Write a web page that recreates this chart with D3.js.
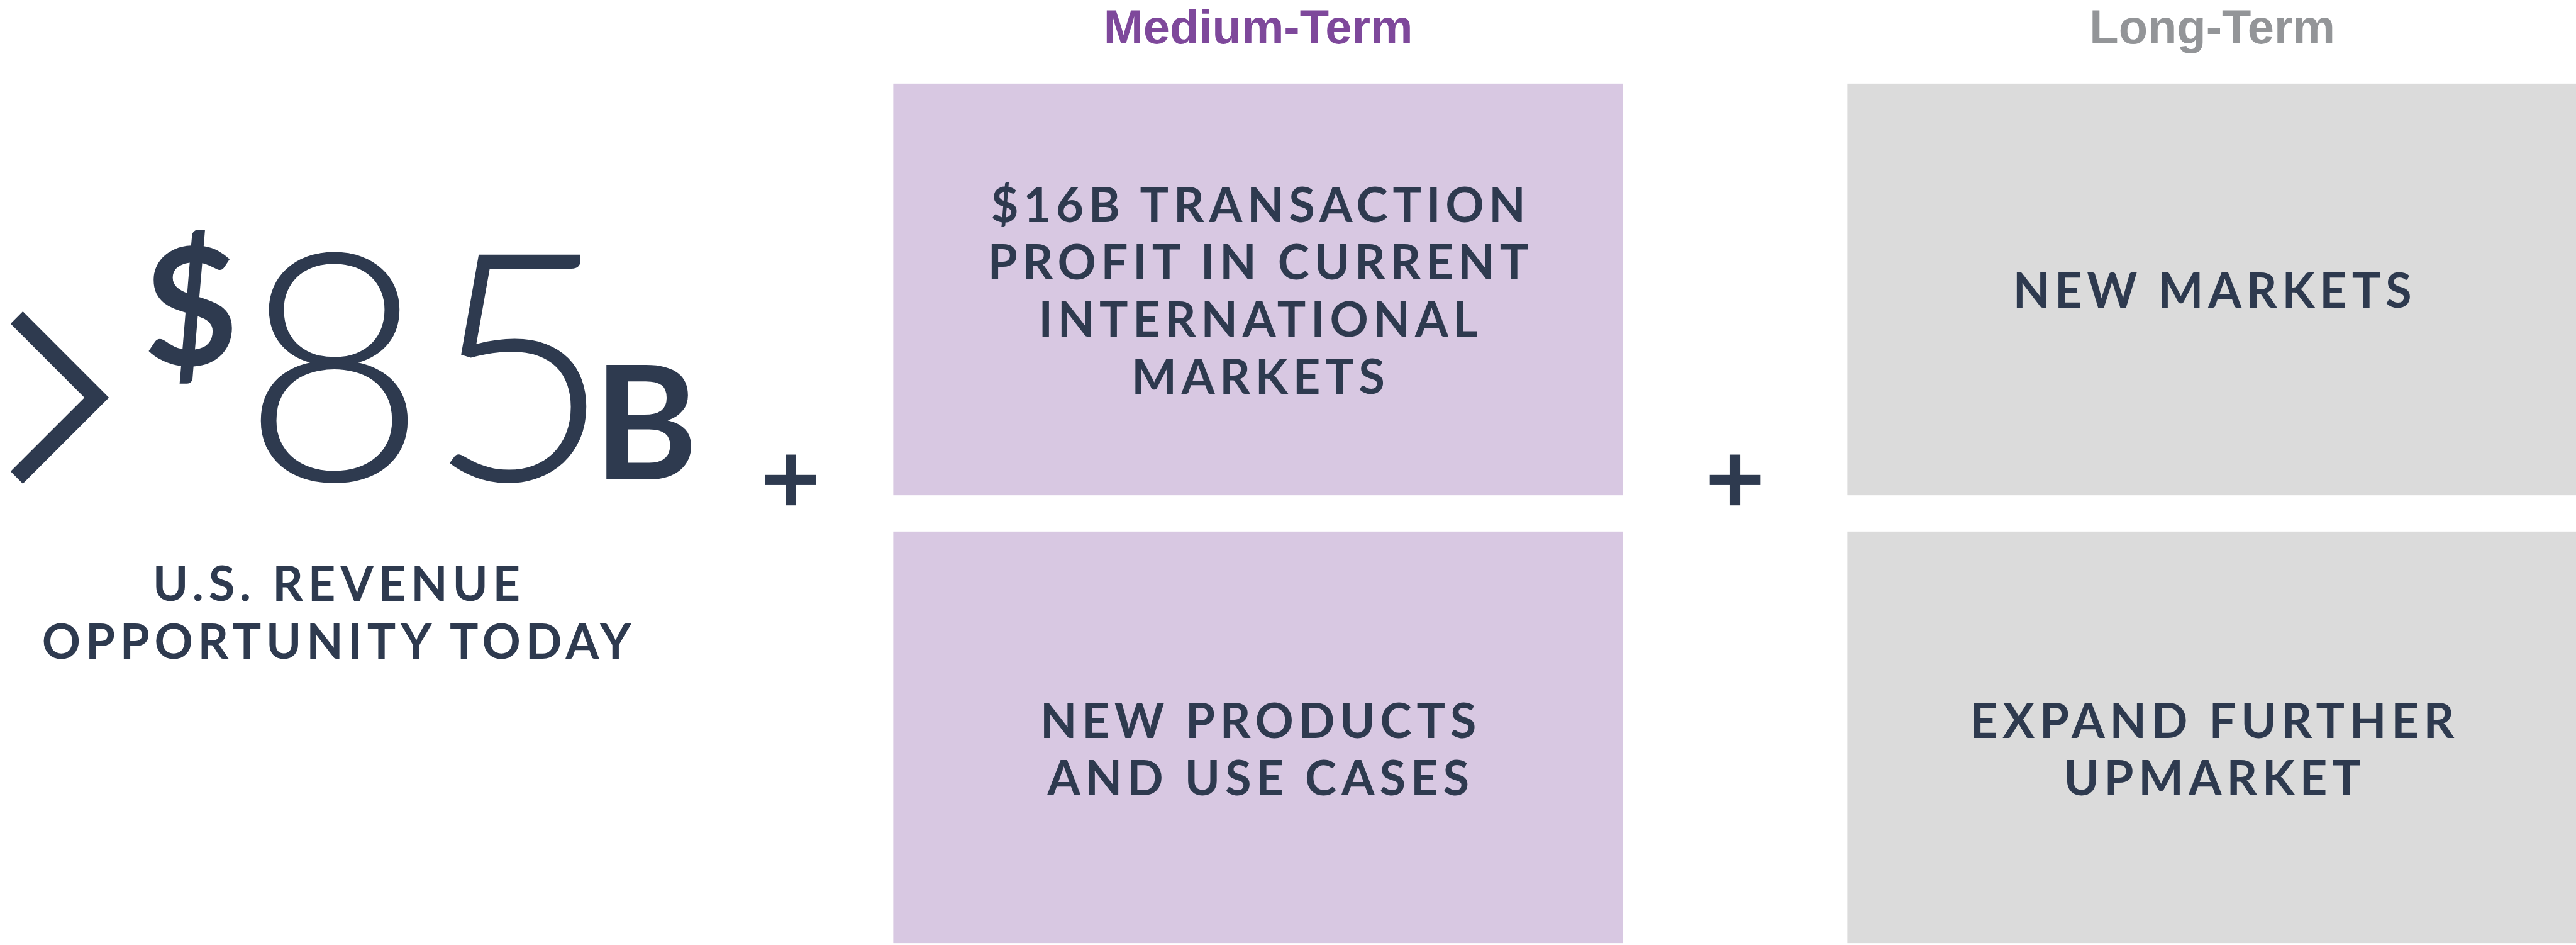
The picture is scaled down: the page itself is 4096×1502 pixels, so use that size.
<!DOCTYPE html>
<html>
<head>
<meta charset="utf-8">
<script src="https://cdn.jsdelivr.net/npm/d3@7"></script>
<style>
  html, body { margin: 0; padding: 0; background: #fff; overflow: hidden; }
</style>
</head>
<body>
<div id="chart"></div>
<script>
(function(){
// data
const horizons = ["Medium-Term", "Long-Term"];
const horizonColors = ["#7e489b", "#939598"];
const boxFills = ["#d8c8e2", "#dbdbdb"];
const mediumTermItems = [
    ["$16B TRANSACTION", "PROFIT IN CURRENT", "INTERNATIONAL", "MARKETS"],
    ["NEW PRODUCTS", "AND USE CASES"]
];
const longTermItems = [
    ["NEW MARKETS"],
    ["EXPAND FURTHER", "UPMARKET"]
];
const opportunityPrefix = "$";
const opportunityValue = 85;
const opportunityUnit = "B";
const opportunityLabel = ["U.S. REVENUE", "OPPORTUNITY TODAY"];

const items = [mediumTermItems, longTermItems];

// reference size, drawn at 0.948 through the viewBox
const W = 4317, H = 1583;
const ink = "#2e3a4f";
const bodyFont = "Lato, 'Open Sans', sans-serif";
const lineGap = 96;
const capH = 57.5;

const svg = d3.select("#chart")
    .append("svg")
    .attr("width", 4096)
    .attr("height", 1502)
    .attr("viewBox", `0 0 ${W} ${H}`);

const x = d3.scaleBand()
    .domain(horizons)
    .range([1497, 4319])
    .paddingInner(0.235)
    .paddingOuter(0);

const y = d3.scaleBand()
    .domain([0, 1])
    .range([140, 1580])
    .paddingInner(0.081);

// tracking: fit "NEW MARKETS" to its width in the reference
const probe = svg.append("text")
    .style("font-family", bodyFont)
    .style("font-weight", 700)
    .style("font-size", "80px")
    .text("NEW MARKETS");
const natural = probe.node().getComputedTextLength();
probe.remove();
const tracking = (668 - natural) / 10;

function trackedLines(g, lines, cx, firstBaseline) {
    g.selectAll("text.line")
        .data(lines)
        .join("text")
        .attr("class", "line")
        .attr("x", cx + tracking / 2)
        .attr("y", (d, i) => firstBaseline + i * lineGap)
        .attr("text-anchor", "middle")
        .style("font-family", bodyFont)
        .style("font-weight", 700)
        .style("font-size", "80px")
        .style("letter-spacing", tracking + "px")
        .attr("fill", ink)
        .text(d => d);
}

// column headings
svg.selectAll("text.heading")
    .data(horizons)
    .join("text")
    .attr("class", "heading")
    .attr("x", d => x(d) + x.bandwidth() / 2)
    .attr("y", 73)
    .attr("text-anchor", "middle")
    .style("font-family", "'Liberation Sans', Arial, sans-serif")
    .style("font-weight", 700)
    .style("font-size", "80px")
    .attr("fill", (d, i) => horizonColors[i])
    .text(d => d);

// boxes with their text
const rowShift = [2, 20];
horizons.forEach((h, i) => {
    items[i].forEach((lines, r) => {
        const g = svg.append("g");
        g.append("rect")
            .attr("x", x(h))
            .attr("y", y(r))
            .attr("width", x.bandwidth())
            .attr("height", y.bandwidth())
            .attr("fill", boxFills[i]);
        const cy = y(r) + y.bandwidth() / 2 + rowShift[r];
        const first = cy - (lines.length - 1) * lineGap / 2 + capH / 2;
        trackedLines(g, lines, x(h) + x.bandwidth() / 2, first);
    });
});

// plus signs before each column
const plusShift = [172, 188];
const arm = 85, bar = 17, plusY = 804;
horizons.forEach((h, i) => {
    const cx = x(h) - plusShift[i];
    const g = svg.append("g").attr("fill", ink);
    g.append("rect").attr("x", cx - arm / 2).attr("y", plusY - bar / 2).attr("width", arm).attr("height", bar);
    g.append("rect").attr("x", cx - bar / 2).attr("y", plusY - arm / 2).attr("width", bar).attr("height", arm);
});

// headline figure
const head = svg.append("g");
head.append("path")
    .attr("d", d3.line()([[28, 532], [162, 666], [28, 800]]))
    .attr("fill", "none")
    .attr("stroke", ink)
    .attr("stroke-width", 29)
    .attr("stroke-linejoin", "miter");

head.append("text")
    .attr("x", 240)
    .attr("y", 612)
    .style("font-family", bodyFont)
    .style("font-weight", 700)
    .style("font-size", "275px")
    .attr("fill", ink)
    .text(opportunityPrefix);

head.append("text")
    .attr("x", 405)
    .attr("y", 805)
    .style("font-family", bodyFont)
    .style("font-weight", 300)
    .style("font-size", "535px")
    .attr("fill", ink)
    .text(opportunityValue);

head.append("text")
    .attr("x", 995)
    .attr("y", 803)
    .style("font-family", bodyFont)
    .style("font-weight", 700)
    .style("font-size", "265px")
    .attr("fill", ink)
    .text(opportunityUnit);

trackedLines(svg.append("g"), opportunityLabel, 564, 1007);

})();
</script>
</body>
</html>
